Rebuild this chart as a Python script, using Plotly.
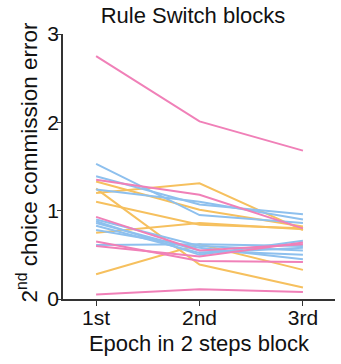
import plotly.graph_objects as go

epochs = ["1st", "2nd", "3rd"]

pink_series = [
    [2.75, 2.01, 1.68],
    [1.35, 1.18, 0.80],
    [0.93, 0.55, 0.62],
    [0.65, 0.43, 0.42],
    [0.60, 0.48, 0.64],
    [0.05, 0.11, 0.08],
]
blue_series = [
    [1.53, 0.95, 0.86],
    [1.39, 1.07, 0.96],
    [1.24, 1.10, 0.90],
    [0.90, 0.60, 0.55],
    [0.86, 0.55, 0.50],
    [0.83, 0.52, 0.58],
    [0.78, 0.58, 0.45],
    [0.61, 0.62, 0.60],
    [0.88, 0.50, 0.66],
]
orange_series = [
    [1.20, 1.31, 0.78],
    [1.33, 1.01, 0.82],
    [1.10, 0.84, 0.80],
    [0.75, 0.86, 0.79],
    [1.25, 0.39, 0.13],
    [0.28, 0.62, 0.33],
]

colors = {"pink": "#F080B8", "blue": "#8EC0EE", "orange": "#F6C05E"}

fig = go.Figure()
for name, series in [("orange", orange_series), ("blue", blue_series), ("pink", pink_series)]:
    for s in series:
        fig.add_trace(go.Scatter(x=[0, 1, 2], y=s, mode="lines",
                                 line=dict(color=colors[name], width=2),
                                 showlegend=False, hoverinfo="skip"))

font = "Arial, Liberation Sans, sans-serif"
fig.update_layout(
    width=341, height=364,
    margin=dict(l=63, r=6, t=33.5, b=64.5),
    plot_bgcolor="white", paper_bgcolor="white",
    font=dict(family=font, size=21, color="#111"),
    title=dict(text="Rule Switch blocks", x=0.566, xref="container", xanchor="center",
               y=1 - 15/364, yref="container", yanchor="middle",
               font=dict(size=22, color="#111")),
)
fig.update_xaxes(
    range=[-0.32, 2.31], tickmode="array", tickvals=[0, 1, 2], ticktext=epochs,
    showline=True, linecolor="#333", linewidth=1.5, ticks="outside", ticklen=5,
    tickcolor="#333", showgrid=False, zeroline=False, automargin=False,
    tickfont=dict(size=21), ticklabelstandoff=-6,
    title=dict(text="Epoch in 2 steps block", font=dict(size=22), standoff=8),
)
fig.update_yaxes(
    range=[0, 3], tickvals=[0, 1, 2, 3], ticktext=["0", "1", "2", "3"],
    showline=True, linecolor="#333", linewidth=1.5, ticks="outside", ticklen=4,
    tickcolor="#333", showgrid=False, zeroline=False, automargin=False,
    tickfont=dict(size=21), ticklabelstandoff=-6,
)
fig.add_annotation(
    text="2<sup>nd</sup> choice commission error", textangle=-90,
    xref="paper", yref="paper", x=(27 - 63) / 272, y=(299.5 - 162.5) / 266,
    xanchor="center", yanchor="middle", showarrow=False,
    font=dict(size=22.5, color="#111"),
)
fig.write_html("out.html", config={"displayModeBar": False},
               post_script="document.body.style.margin='0';document.body.style.padding='0';")
